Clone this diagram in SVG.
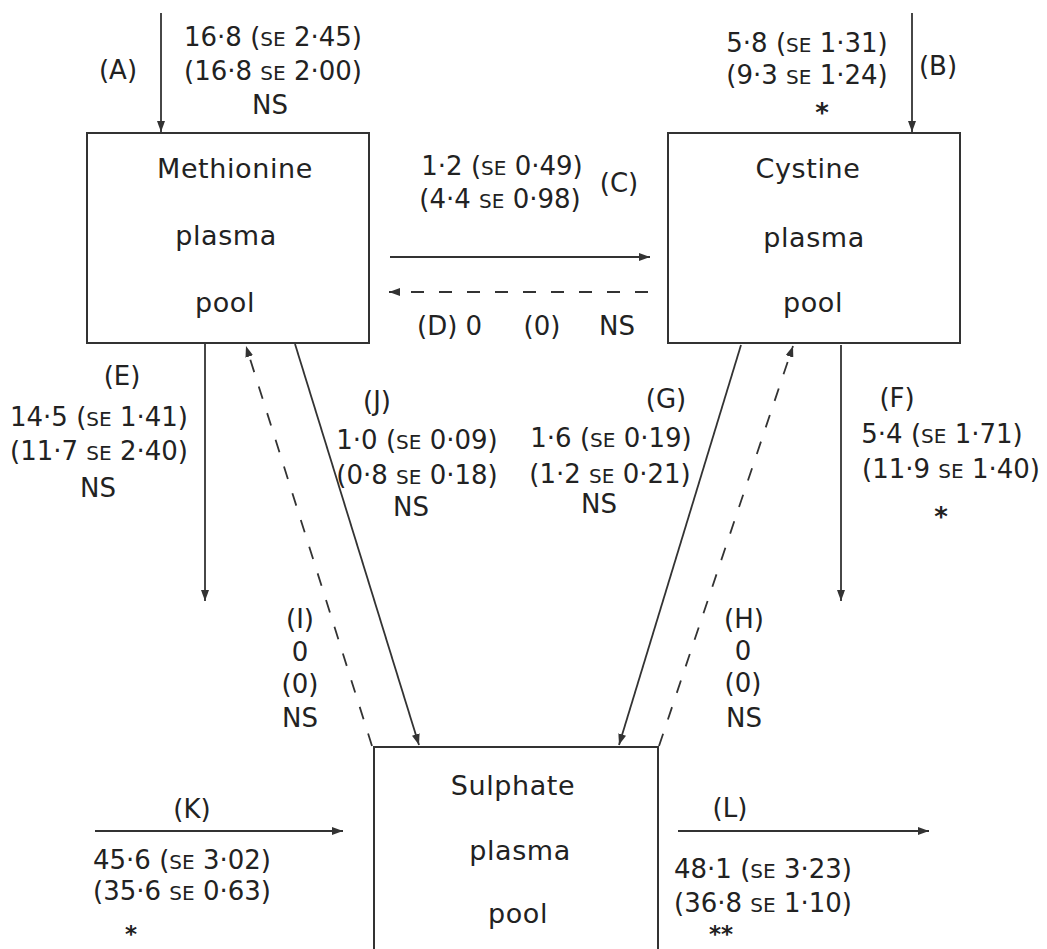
<svg xmlns="http://www.w3.org/2000/svg" width="1047" height="949" viewBox="0 0 1047 949">
<style>
text{font-family:"DejaVu Sans","Liberation Sans",sans-serif;font-size:26px;fill:#222;text-anchor:middle}
.se{font-size:20px}
.box{fill:none;stroke:#333;stroke-width:2}
.bl{font-size:27px;letter-spacing:0.6px}
.ln{stroke:#333;stroke-width:1.8;fill:none}
.ds{stroke-dasharray:13 15}
.st{font-size:26px;font-weight:bold}
.sb{font-size:23px;font-weight:bold}
.l{text-anchor:start}
</style>
<defs>
<marker id="ah" markerUnits="userSpaceOnUse" markerWidth="12" markerHeight="8" refX="11" refY="4" orient="auto">
<path d="M0,0 L11,4 L0,8 z" fill="#333"/>
</marker>
</defs>
<rect width="1047" height="949" fill="#fff"/>
<g id="connectors">
<line class="ln" x1="161" y1="13" x2="161" y2="132" marker-end="url(#ah)"/>
<line class="ln" x1="912" y1="13" x2="912" y2="132" marker-end="url(#ah)"/>
<line class="ln" x1="390" y1="257" x2="650" y2="257" marker-end="url(#ah)"/>
<line class="ln ds" x1="648" y1="292" x2="389" y2="292" marker-end="url(#ah)"/>
<line class="ln" x1="205" y1="344" x2="205" y2="601" marker-end="url(#ah)"/>
<line class="ln" x1="841" y1="345" x2="841" y2="601" marker-end="url(#ah)"/>
<line class="ln" x1="741" y1="345" x2="619" y2="745" marker-end="url(#ah)"/>
<line class="ln ds" x1="659" y1="746" x2="793" y2="346" marker-end="url(#ah)"/>
<line class="ln ds" x1="372" y1="746" x2="246" y2="346" marker-end="url(#ah)"/>
<line class="ln" x1="295" y1="344" x2="419" y2="745" marker-end="url(#ah)"/>
<line class="ln" x1="95" y1="831" x2="343" y2="831" marker-end="url(#ah)"/>
<line class="ln" x1="678" y1="831" x2="929" y2="831" marker-end="url(#ah)"/>
</g>
<g id="methionine">
<rect class="box" x="87" y="133" width="282" height="210"/>
<text class="bl" x="235" y="178">Methionine</text>
<text class="bl" x="226" y="245">plasma</text>
<text class="bl" x="225" y="312">pool</text>
</g>
<g id="cystine">
<rect class="box" x="668" y="133" width="292" height="210"/>
<text class="bl" x="808" y="178">Cystine</text>
<text class="bl" x="814" y="247">plasma</text>
<text class="bl" x="813" y="312">pool</text>
</g>
<g id="sulphate">
<path class="box" d="M374,960 V747 H658 V960"/>
<text class="bl" x="513" y="795">Sulphate</text>
<text class="bl" x="520" y="860">plasma</text>
<text class="bl" x="518" y="923">pool</text>
</g>
<g id="label-A">
<text x="118" y="79">(A)</text>
<text x="273" y="46">16·8 (<tspan class="se">SE</tspan> 2·45)</text>
<text x="273" y="80">(16·8 <tspan class="se">SE</tspan> 2·00)</text>
<text x="270" y="114">NS</text>
</g>
<g id="label-B">
<text x="807" y="52">5·8 (<tspan class="se">SE</tspan> 1·31)</text>
<text x="807" y="84">(9·3 <tspan class="se">SE</tspan> 1·24)</text>
<text class="st" x="822" y="122">*</text>
<text x="938" y="75">(B)</text>
</g>
<g id="label-C">
<text x="502" y="175">1·2 (<tspan class="se">SE</tspan> 0·49)</text>
<text x="500" y="208">(4·4 <tspan class="se">SE</tspan> 0·98)</text>
<text x="619" y="192">(C)</text>
</g>
<g id="label-D">
<text class="l" x="417" y="335">(D) 0</text>
<text x="542" y="335">(0)</text>
<text x="617" y="335">NS</text>
</g>
<g id="label-E">
<text x="122" y="385">(E)</text>
<text x="99" y="426">14·5 (<tspan class="se">SE</tspan> 1·41)</text>
<text x="99" y="460">(11·7 <tspan class="se">SE</tspan> 2·40)</text>
<text x="98" y="497">NS</text>
</g>
<g id="label-J">
<text x="377" y="410">(J)</text>
<text x="417" y="449">1·0 (<tspan class="se">SE</tspan> 0·09)</text>
<text x="417" y="484">(0·8 <tspan class="se">SE</tspan> 0·18)</text>
<text x="411" y="516">NS</text>
</g>
<g id="label-G">
<text x="666" y="408">(G)</text>
<text x="611" y="447">1·6 (<tspan class="se">SE</tspan> 0·19)</text>
<text x="610" y="483">(1·2 <tspan class="se">SE</tspan> 0·21)</text>
<text x="599" y="513">NS</text>
</g>
<g id="label-F">
<text x="897" y="407">(F)</text>
<text x="942" y="443">5·4 (<tspan class="se">SE</tspan> 1·71)</text>
<text x="951" y="478">(11·9 <tspan class="se">SE</tspan> 1·40)</text>
<text class="st" x="941" y="526">*</text>
</g>
<g id="label-I">
<text x="300" y="628">(I)</text>
<text x="300" y="661">0</text>
<text x="300" y="693">(0)</text>
<text x="300" y="727">NS</text>
</g>
<g id="label-H">
<text x="744" y="628">(H)</text>
<text x="743" y="660">0</text>
<text x="743" y="692">(0)</text>
<text x="744" y="727">NS</text>
</g>
<g id="label-K">
<text x="192" y="818">(K)</text>
<text x="182" y="869">45·6 (<tspan class="se">SE</tspan> 3·02)</text>
<text x="182" y="900">(35·6 <tspan class="se">SE</tspan> 0·63)</text>
<text class="sb" x="131" y="942">*</text>
</g>
<g id="label-L">
<text x="730" y="817">(L)</text>
<text x="763" y="878">48·1 (<tspan class="se">SE</tspan> 3·23)</text>
<text x="763" y="912">(36·8 <tspan class="se">SE</tspan> 1·10)</text>
<text class="sb" x="721" y="942">**</text>
</g>
</svg>
